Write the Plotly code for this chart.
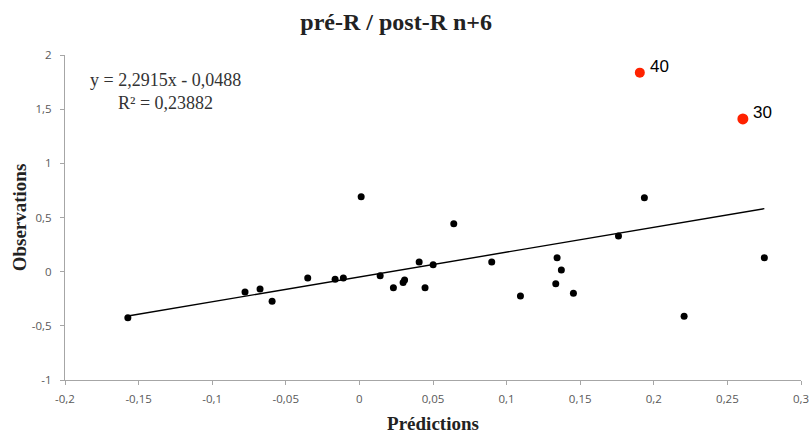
import plotly.graph_objects as go

# Black series (Prédictions, Observations)
pred = [-0.1573, -0.0777, -0.0675, -0.0593, -0.0351, -0.0165, -0.0109, 0.0012,
        0.0141, 0.0231, 0.0297, 0.0307, 0.0406, 0.0446, 0.0501, 0.0641,
        0.0899, 0.1094, 0.1334, 0.1343, 0.1372, 0.1454, 0.1760, 0.1936,
        0.2206, 0.2751]
obs = [-0.425, -0.187, -0.160, -0.273, -0.058, -0.070, -0.058, 0.692,
       -0.037, -0.148, -0.100, -0.077, 0.090, -0.148, 0.065, 0.443,
       0.090, -0.224, -0.111, 0.129, 0.016, -0.199, 0.330, 0.683,
       -0.412, 0.129]

# Highlighted (red) points
red_pred = [0.1905, 0.2605]
red_obs = [1.837, 1.410]
red_labels = ["40", "30"]
red_sizes = [10, 11]

# Trendline coefficients (from chart)
slope = 2.2915
intercept = -0.0488
eq_text = "y = 2,2915x - 0,0488"
r2_text = "R² = 0,23882"

x_ticks = [-0.2, -0.15, -0.1, -0.05, 0, 0.05, 0.1, 0.15, 0.2, 0.25, 0.3]
x_ticktext = ["-0,2", "-0,15", "-0,1", "-0,05", "0", "0,05", "0,1", "0,15", "0,2", "0,25", "0,3"]
y_ticks = [-1, -0.5, 0, 0.5, 1, 1.5, 2]
y_ticktext = ["-1", "-0,5", "0", "0,5", "1", "1,5", "2"]

title = "pré-R / post-R n+6"
x_title = "Prédictions"
y_title = "Observations"

fig = go.Figure()

x0, x1 = min(pred), max(pred)
fig.add_trace(go.Scatter(
    x=[x0, x1], y=[slope * x0 + intercept, slope * x1 + intercept],
    mode="lines", line=dict(color="black", width=1.4), showlegend=False, hoverinfo="skip"))

fig.add_trace(go.Scatter(
    x=pred, y=obs, mode="markers",
    marker=dict(color="black", size=7, opacity=1), showlegend=False))

fig.add_trace(go.Scatter(
    x=red_pred, y=red_obs, mode="markers",
    marker=dict(color="#FF2200", size=red_sizes, opacity=1,
                line=dict(color="#FF2200", width=0)),
    showlegend=False))

serif = "Liberation Serif, Times New Roman, serif"
tickfont = dict(family="Open Sans", size=11.5, color="#595959")

annotations = [
    dict(x=px, y=py, xref="x", yref="y", text=lab, showarrow=False,
         xanchor="left", yanchor="middle", xshift=8, yshift=6,
         font=dict(family="Liberation Sans, Arial", size=17, color="black"))
    for px, py, lab in zip(red_pred, red_obs, red_labels)
]
annotations.append(
    dict(x=-0.132, y=1.66, xref="x", yref="y", text=eq_text + "<br>" + r2_text,
         showarrow=False, xanchor="center", yanchor="middle", align="center",
         font=dict(family=serif, size=18, color="#333")))

fig.update_layout(
    width=812, height=434,
    margin=dict(l=65, r=11, t=55, b=54, autoexpand=False),
    paper_bgcolor="white", plot_bgcolor="white",
    title=dict(text="<b>" + title + "</b>", xref="paper", x=0.45, xanchor="center",
               y=1 - 22 / 434, yanchor="middle",
               font=dict(family=serif, size=24, color="#222")),
    xaxis=dict(range=[-0.2, 0.3], tickvals=x_ticks, ticktext=x_ticktext,
               automargin=False, ticklabeloverflow="allow",
               showgrid=False, zeroline=False, showline=True,
               linecolor="#a6a6a6", linewidth=1.2, ticks="outside",
               tickcolor="#a6a6a6", ticklen=4, tickfont=tickfont,
               ticklabelstandoff=4,
               title=dict(text="<b>" + x_title + "</b>", standoff=27,
                          font=dict(family=serif, size=19, color="#222"))),
    yaxis=dict(range=[-1, 2], tickvals=y_ticks, ticktext=y_ticktext,
               automargin=False,
               showgrid=False, zeroline=False, showline=True,
               linecolor="#a6a6a6", linewidth=1.2, ticks="outside",
               tickcolor="#a6a6a6", ticklen=4, tickfont=tickfont,
               ticklabelstandoff=6,
               title=dict(text="<b>" + y_title + "</b>", standoff=0,
                          font=dict(family=serif, size=19, color="#222"))),
    annotations=annotations,
)

# Remove the page's default 8px body margin so the figure fills the window exactly.
fig.write_html("out.html", config={"displayModeBar": False},
               post_script="document.body.style.margin='0';document.body.style.overflow='hidden';")
